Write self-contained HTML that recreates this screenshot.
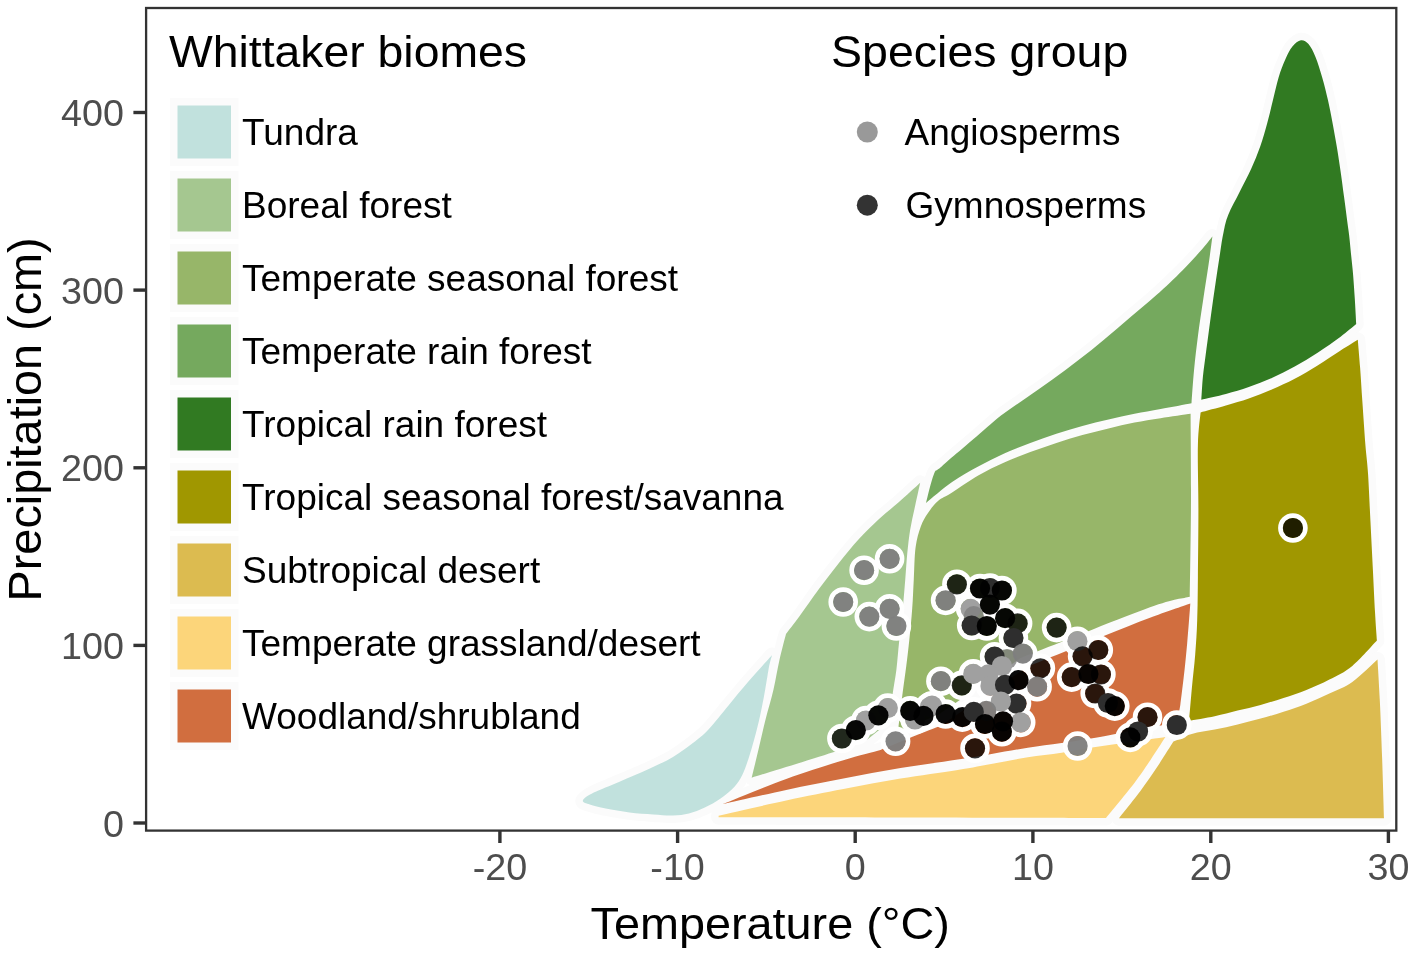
<!DOCTYPE html>
<html><head><meta charset="utf-8"><title>Whittaker biomes</title>
<style>
html,body{margin:0;padding:0;background:#fff;}
svg{display:block;}
text{font-family:"Liberation Sans",sans-serif;}
.tick{font-size:37.7px;fill:#4d4d4d;}
.lab{font-size:37px;fill:#000;}
.ttl{font-size:45px;fill:#000;}
</style></head>
<body>
<svg width="1417" height="959" viewBox="0 0 1417 959">
<rect x="0" y="0" width="1417" height="959" fill="#fff"/>
<!-- biome polygons -->
<g id="biomes">
<g fill="none" stroke="#fbfbfb" stroke-width="15" stroke-linejoin="round">
<path d="M772.1 654.9C771.6 656.7 770.4 660.0 769.2 665.8C768.1 671.6 766.7 681.2 765.2 689.5C763.7 697.8 762.0 707.0 760.2 715.3C758.4 723.6 756.3 731.8 754.3 739.1C752.3 746.4 750.4 753.0 748.4 758.9C746.4 764.8 744.7 770.2 742.4 774.8C740.1 779.4 738.1 782.8 734.5 786.7C730.9 790.7 725.6 795.0 720.6 798.5C715.6 802.0 710.1 805.0 704.8 807.5C699.5 810.0 694.2 812.1 688.9 813.4C683.6 814.7 679.0 815.2 673.0 815.4C667.0 815.6 660.5 814.9 653.2 814.4C646.0 813.9 637.4 813.4 629.5 812.4C621.6 811.4 612.3 809.8 605.7 808.5C599.1 807.2 593.6 805.8 589.8 804.5C586.0 803.2 582.2 802.5 582.9 800.5C583.6 798.5 587.7 795.7 593.8 792.6C599.9 789.5 610.2 785.7 619.5 781.7C628.8 777.7 640.4 772.9 649.3 768.8C658.2 764.7 665.7 761.2 673.0 756.9C680.3 752.6 686.9 747.6 692.9 743.0C698.9 738.4 702.8 735.5 708.7 729.2C714.6 722.9 721.9 713.3 728.5 705.4C735.1 697.5 741.1 690.0 748.4 681.6C755.7 673.2 768.1 659.4 772.1 654.9Z"/>
<path d="M920.2 482.8C916.6 486.1 905.4 496.5 898.4 502.6C891.4 508.7 885.1 513.4 878.5 519.5C871.9 525.6 865.3 532.0 858.7 539.3C852.1 546.5 845.5 554.8 838.9 563.0C832.3 571.2 825.7 579.9 819.1 588.8C812.5 597.7 804.8 609.1 799.3 616.6C793.8 624.1 788.2 631.1 786.0 634.0C784.9 638.3 781.6 650.5 779.5 659.8C777.4 669.0 775.8 679.6 773.5 689.5C771.2 699.4 768.1 709.4 765.6 719.3C763.1 729.2 760.9 739.3 758.6 749.0C756.3 758.7 752.9 772.9 751.7 777.7C765.9 773.2 817.5 757.5 836.9 751.0C856.3 744.5 862.8 741.0 868.0 739.0L889.0 722.0C889.6 717.6 891.2 704.2 892.4 695.5C893.6 686.8 895.2 679.0 896.4 669.7C897.5 660.5 898.1 651.2 899.3 640.0C900.4 628.8 902.3 612.9 903.3 602.7C904.3 592.5 904.6 587.2 905.3 578.9C906.0 570.6 906.5 561.4 907.3 553.1C908.1 544.9 908.9 537.3 910.2 529.4C911.5 521.5 913.5 513.4 915.2 505.6C916.9 497.8 919.4 486.6 920.2 482.8Z"/>
<path d="M898.0 731.0C898.7 725.1 900.9 706.4 902.3 695.5C903.7 684.6 905.1 675.0 906.3 665.8C907.5 656.5 908.3 649.5 909.3 640.0C910.3 630.5 911.5 618.8 912.2 608.6C913.0 598.4 913.2 589.1 913.8 578.9C914.4 568.7 914.4 556.0 915.6 547.2C916.8 538.5 918.7 532.1 920.8 526.4C922.9 520.7 925.1 517.2 928.0 513.0C930.9 508.8 934.0 504.4 938.0 501.0C942.0 497.6 945.4 496.8 952.1 492.5C958.8 488.2 969.5 480.5 978.2 475.5C986.9 470.5 995.5 466.4 1004.2 462.5C1012.9 458.6 1021.6 455.4 1030.3 452.1C1039.0 448.9 1047.7 445.8 1056.4 443.0C1065.1 440.2 1073.7 437.5 1082.4 435.1C1091.1 432.7 1099.8 430.7 1108.5 428.6C1117.2 426.5 1125.8 424.3 1134.5 422.6C1143.2 420.9 1151.2 419.7 1160.6 418.2C1169.9 416.7 1185.6 414.5 1190.6 413.8C1190.7 428.2 1191.1 469.5 1191.0 500.0C1190.9 530.5 1190.0 580.6 1189.8 596.7C1183.2 598.5 1175.2 598.2 1150.0 607.3C1124.8 616.4 1060.0 642.6 1038.3 651.1C1016.6 659.6 1023.0 657.3 1020.0 658.5L938.0 715.0L898.0 731.0Z"/>
<path d="M926.0 502.9C927.3 498.1 931.3 480.3 933.9 474.2C936.5 468.1 934.3 472.9 941.7 466.4C949.1 459.9 968.3 443.6 978.2 435.1C988.1 426.6 993.0 421.8 1001.0 415.6C1009.0 409.4 1017.6 404.0 1026.1 398.0C1034.6 392.0 1043.4 386.1 1052.1 379.8C1060.8 373.5 1069.5 367.0 1078.2 360.3C1086.9 353.6 1095.5 346.6 1104.2 339.4C1112.9 332.2 1121.6 324.7 1130.3 317.3C1139.0 309.9 1147.7 302.9 1156.4 295.1C1165.1 287.3 1175.0 277.8 1182.4 270.4C1189.8 263.0 1195.7 256.4 1200.7 250.8C1205.7 245.2 1210.5 238.9 1212.4 236.5C1211.8 241.3 1210.0 254.7 1208.5 265.1C1207.0 275.5 1205.0 287.3 1203.3 299.0C1201.5 310.7 1199.5 323.8 1198.0 335.5C1196.5 347.2 1195.2 358.1 1194.1 369.4C1193.0 380.7 1191.9 397.6 1191.5 403.3C1186.3 404.3 1170.1 407.4 1160.6 409.1C1151.1 410.9 1143.2 412.1 1134.5 413.8C1125.8 415.5 1117.2 417.5 1108.5 419.5C1099.8 421.5 1091.1 423.6 1082.4 426.0C1073.7 428.4 1065.1 431.0 1056.4 433.8C1047.7 436.6 1039.0 439.7 1030.3 443.0C1021.6 446.3 1012.9 449.5 1004.2 453.4C995.5 457.3 986.9 461.6 978.2 466.4C969.5 471.2 960.8 475.9 952.1 482.0C943.4 488.1 930.4 499.4 926.0 502.9Z"/>
<path d="M1201.3 399.8C1201.6 396.0 1202.1 385.2 1202.9 376.8C1203.8 368.4 1205.1 359.6 1206.4 349.3C1207.8 339.0 1209.5 326.0 1211.0 314.9C1212.5 303.8 1214.1 293.1 1215.6 282.8C1217.1 272.5 1218.8 261.4 1220.1 252.9C1221.4 244.4 1222.2 238.3 1223.6 232.0C1224.9 225.7 1225.5 221.7 1228.2 215.0C1230.9 208.3 1235.8 199.8 1239.6 192.1C1243.4 184.4 1247.6 176.8 1251.1 169.1C1254.5 161.4 1257.6 153.8 1260.3 146.2C1263.0 138.5 1265.1 130.8 1267.2 123.2C1269.3 115.6 1271.0 107.9 1272.9 100.3C1274.8 92.7 1276.5 84.3 1278.6 77.4C1280.7 70.5 1283.2 64.2 1285.5 59.0C1287.8 53.8 1289.8 49.5 1292.4 46.4C1295.0 43.3 1298.2 40.6 1300.9 40.2C1303.6 39.8 1306.1 41.4 1308.5 44.1C1310.9 46.9 1313.1 51.2 1315.4 56.7C1317.7 62.2 1320.1 70.1 1322.2 77.4C1324.3 84.7 1326.3 92.7 1328.0 100.3C1329.7 107.9 1331.1 115.2 1332.6 123.2C1334.1 131.2 1335.8 140.5 1337.1 148.5C1338.4 156.5 1339.4 163.4 1340.6 171.4C1341.8 179.4 1342.9 188.6 1344.0 196.6C1345.1 204.6 1346.2 213.2 1347.0 219.6C1347.8 226.0 1348.4 229.4 1349.1 235.0C1349.8 240.6 1350.2 246.1 1350.9 252.9C1351.6 259.7 1352.6 268.2 1353.2 275.9C1353.8 283.5 1354.3 290.8 1354.8 298.8C1355.3 306.8 1356.0 319.9 1356.2 324.1C1353.6 326.2 1347.0 331.9 1340.6 336.7C1334.2 341.5 1325.2 347.7 1317.6 352.7C1309.9 357.7 1302.3 362.3 1294.7 366.5C1287.1 370.7 1279.5 374.6 1271.8 378.0C1264.1 381.4 1256.4 384.4 1248.8 387.1C1241.2 389.8 1233.8 391.9 1225.9 394.0C1218.0 396.1 1205.4 398.8 1201.3 399.8Z"/>
<path d="M1200.6 412.4C1204.8 411.2 1217.9 407.8 1225.9 405.5C1233.9 403.2 1241.2 401.3 1248.8 398.6C1256.4 395.9 1264.1 392.7 1271.8 389.4C1279.5 386.1 1287.1 382.7 1294.7 378.7C1302.3 374.7 1309.9 370.1 1317.6 365.4C1325.2 360.7 1333.9 354.7 1340.6 350.4C1347.3 346.1 1354.9 341.5 1357.8 339.7C1358.2 344.4 1359.3 357.2 1360.1 367.6C1360.9 378.0 1361.5 389.2 1362.4 402.1C1363.3 415.0 1364.5 432.9 1365.4 445.0C1366.4 457.1 1367.3 461.8 1368.1 474.4C1368.9 486.9 1369.6 505.0 1370.4 520.3C1371.2 535.6 1371.9 550.9 1372.7 566.2C1373.5 581.5 1374.3 599.7 1375.0 612.1C1375.7 624.5 1376.6 635.9 1376.9 640.6C1372.8 644.8 1360.2 659.4 1352.3 665.9C1344.4 672.4 1337.1 675.6 1329.4 679.6C1321.8 683.6 1314.1 686.9 1306.4 690.0C1298.8 693.1 1291.1 695.5 1283.5 698.0C1275.9 700.5 1268.2 702.8 1260.6 704.9C1252.9 707.0 1245.2 708.7 1237.6 710.6C1229.9 712.5 1222.8 714.6 1214.7 716.3C1206.6 718.0 1193.3 720.1 1189.0 720.9C1189.5 715.5 1190.8 699.9 1191.8 688.8C1192.8 677.7 1194.3 665.9 1195.2 654.4C1196.1 642.9 1196.8 632.8 1197.2 620.0C1197.7 607.2 1197.7 596.1 1197.9 577.6C1198.1 559.1 1198.4 530.9 1198.4 508.8C1198.4 486.7 1197.5 461.1 1197.9 445.0C1198.3 428.9 1200.1 417.8 1200.6 412.4Z"/>
<path d="M1377.5 659.5C1373.3 663.2 1360.3 676.2 1352.3 681.9C1344.3 687.5 1337.1 689.8 1329.4 693.4C1321.8 697.0 1314.1 700.6 1306.4 703.7C1298.8 706.8 1291.1 709.3 1283.5 711.8C1275.9 714.3 1268.2 716.5 1260.6 718.6C1252.9 720.7 1245.2 722.6 1237.6 724.4C1229.9 726.2 1222.3 728.0 1214.7 729.6C1207.1 731.2 1198.7 732.0 1191.8 734.0C1184.9 736.0 1176.5 740.3 1173.4 741.6C1170.7 745.8 1162.7 758.8 1157.3 766.8C1151.9 774.8 1147.7 781.1 1141.3 789.7C1134.9 798.3 1122.7 813.5 1119.0 818.2L1384.0 818.2C1383.7 808.1 1382.8 777.2 1382.1 757.6C1381.4 738.0 1380.6 716.6 1379.8 700.3C1379.0 683.9 1377.9 666.3 1377.5 659.5Z"/>
<path d="M718.6 815.7C729.9 813.2 765.4 804.9 786.2 800.5C807.0 796.1 824.4 792.8 843.4 789.1C862.4 785.5 881.5 781.8 900.5 778.6C919.5 775.4 942.1 772.5 957.7 770.0C973.3 767.5 982.2 765.6 993.9 763.5C1005.6 761.4 1016.5 759.1 1027.8 757.3C1039.1 755.5 1050.3 754.4 1061.6 752.7C1072.9 751.0 1084.1 748.7 1095.5 747.0C1106.9 745.3 1118.3 744.0 1130.0 742.3C1141.7 740.6 1159.5 737.9 1165.4 737.0C1162.9 740.8 1155.7 752.2 1150.5 759.9C1145.3 767.5 1141.8 773.2 1134.4 782.9C1127.0 792.6 1110.7 812.1 1106.0 818.0C1071.7 817.9 964.6 817.6 900.0 817.5C835.4 817.4 748.8 817.3 718.6 817.3L718.6 815.7Z"/>
<path d="M722.4 804.3C733.0 800.1 766.0 786.4 786.2 779.0C806.4 771.6 827.7 765.0 843.4 760.2C859.1 755.4 874.3 751.7 880.5 750.0C886.0 747.7 903.9 740.3 913.8 736.3C923.7 732.3 935.6 727.6 940.0 725.9L1028.0 666.5C1032.0 664.9 1039.1 662.0 1051.9 656.8C1064.7 651.6 1088.7 641.9 1105.0 635.4C1121.3 628.9 1135.8 623.0 1150.0 617.7C1164.2 612.4 1183.6 605.9 1190.3 603.5C1189.8 610.5 1188.3 630.7 1187.2 642.9C1186.1 655.1 1184.9 667.0 1183.7 677.3C1182.5 687.6 1181.2 698.4 1180.3 704.9C1179.3 711.4 1178.4 714.4 1178.0 716.3C1175.7 717.6 1172.2 721.9 1164.2 724.4C1156.2 726.9 1140.7 728.9 1130.0 731.0C1119.3 733.1 1111.4 735.0 1100.0 737.0C1088.6 739.0 1073.6 741.3 1061.6 743.1C1049.6 744.9 1039.5 745.9 1027.8 747.7C1016.1 749.5 1003.3 751.9 991.6 753.9C979.9 755.9 972.9 757.1 957.7 759.5C942.5 761.9 919.5 764.9 900.5 768.1C881.5 771.3 862.4 775.0 843.4 778.6C824.4 782.2 806.4 785.7 786.2 790.0C766.0 794.3 733.0 801.9 722.4 804.3Z"/>
</g>
<path d="M772.1 654.9C771.6 656.7 770.4 660.0 769.2 665.8C768.1 671.6 766.7 681.2 765.2 689.5C763.7 697.8 762.0 707.0 760.2 715.3C758.4 723.6 756.3 731.8 754.3 739.1C752.3 746.4 750.4 753.0 748.4 758.9C746.4 764.8 744.7 770.2 742.4 774.8C740.1 779.4 738.1 782.8 734.5 786.7C730.9 790.7 725.6 795.0 720.6 798.5C715.6 802.0 710.1 805.0 704.8 807.5C699.5 810.0 694.2 812.1 688.9 813.4C683.6 814.7 679.0 815.2 673.0 815.4C667.0 815.6 660.5 814.9 653.2 814.4C646.0 813.9 637.4 813.4 629.5 812.4C621.6 811.4 612.3 809.8 605.7 808.5C599.1 807.2 593.6 805.8 589.8 804.5C586.0 803.2 582.2 802.5 582.9 800.5C583.6 798.5 587.7 795.7 593.8 792.6C599.9 789.5 610.2 785.7 619.5 781.7C628.8 777.7 640.4 772.9 649.3 768.8C658.2 764.7 665.7 761.2 673.0 756.9C680.3 752.6 686.9 747.6 692.9 743.0C698.9 738.4 702.8 735.5 708.7 729.2C714.6 722.9 721.9 713.3 728.5 705.4C735.1 697.5 741.1 690.0 748.4 681.6C755.7 673.2 768.1 659.4 772.1 654.9Z" fill="#C1E1DD"/>
<path d="M920.2 482.8C916.6 486.1 905.4 496.5 898.4 502.6C891.4 508.7 885.1 513.4 878.5 519.5C871.9 525.6 865.3 532.0 858.7 539.3C852.1 546.5 845.5 554.8 838.9 563.0C832.3 571.2 825.7 579.9 819.1 588.8C812.5 597.7 804.8 609.1 799.3 616.6C793.8 624.1 788.2 631.1 786.0 634.0C784.9 638.3 781.6 650.5 779.5 659.8C777.4 669.0 775.8 679.6 773.5 689.5C771.2 699.4 768.1 709.4 765.6 719.3C763.1 729.2 760.9 739.3 758.6 749.0C756.3 758.7 752.9 772.9 751.7 777.7C765.9 773.2 817.5 757.5 836.9 751.0C856.3 744.5 862.8 741.0 868.0 739.0L889.0 722.0C889.6 717.6 891.2 704.2 892.4 695.5C893.6 686.8 895.2 679.0 896.4 669.7C897.5 660.5 898.1 651.2 899.3 640.0C900.4 628.8 902.3 612.9 903.3 602.7C904.3 592.5 904.6 587.2 905.3 578.9C906.0 570.6 906.5 561.4 907.3 553.1C908.1 544.9 908.9 537.3 910.2 529.4C911.5 521.5 913.5 513.4 915.2 505.6C916.9 497.8 919.4 486.6 920.2 482.8Z" fill="#A5C790"/>
<path d="M898.0 731.0C898.7 725.1 900.9 706.4 902.3 695.5C903.7 684.6 905.1 675.0 906.3 665.8C907.5 656.5 908.3 649.5 909.3 640.0C910.3 630.5 911.5 618.8 912.2 608.6C913.0 598.4 913.2 589.1 913.8 578.9C914.4 568.7 914.4 556.0 915.6 547.2C916.8 538.5 918.7 532.1 920.8 526.4C922.9 520.7 925.1 517.2 928.0 513.0C930.9 508.8 934.0 504.4 938.0 501.0C942.0 497.6 945.4 496.8 952.1 492.5C958.8 488.2 969.5 480.5 978.2 475.5C986.9 470.5 995.5 466.4 1004.2 462.5C1012.9 458.6 1021.6 455.4 1030.3 452.1C1039.0 448.9 1047.7 445.8 1056.4 443.0C1065.1 440.2 1073.7 437.5 1082.4 435.1C1091.1 432.7 1099.8 430.7 1108.5 428.6C1117.2 426.5 1125.8 424.3 1134.5 422.6C1143.2 420.9 1151.2 419.7 1160.6 418.2C1169.9 416.7 1185.6 414.5 1190.6 413.8C1190.7 428.2 1191.1 469.5 1191.0 500.0C1190.9 530.5 1190.0 580.6 1189.8 596.7C1183.2 598.5 1175.2 598.2 1150.0 607.3C1124.8 616.4 1060.0 642.6 1038.3 651.1C1016.6 659.6 1023.0 657.3 1020.0 658.5L938.0 715.0L898.0 731.0Z" fill="#97B669"/>
<path d="M926.0 502.9C927.3 498.1 931.3 480.3 933.9 474.2C936.5 468.1 934.3 472.9 941.7 466.4C949.1 459.9 968.3 443.6 978.2 435.1C988.1 426.6 993.0 421.8 1001.0 415.6C1009.0 409.4 1017.6 404.0 1026.1 398.0C1034.6 392.0 1043.4 386.1 1052.1 379.8C1060.8 373.5 1069.5 367.0 1078.2 360.3C1086.9 353.6 1095.5 346.6 1104.2 339.4C1112.9 332.2 1121.6 324.7 1130.3 317.3C1139.0 309.9 1147.7 302.9 1156.4 295.1C1165.1 287.3 1175.0 277.8 1182.4 270.4C1189.8 263.0 1195.7 256.4 1200.7 250.8C1205.7 245.2 1210.5 238.9 1212.4 236.5C1211.8 241.3 1210.0 254.7 1208.5 265.1C1207.0 275.5 1205.0 287.3 1203.3 299.0C1201.5 310.7 1199.5 323.8 1198.0 335.5C1196.5 347.2 1195.2 358.1 1194.1 369.4C1193.0 380.7 1191.9 397.6 1191.5 403.3C1186.3 404.3 1170.1 407.4 1160.6 409.1C1151.1 410.9 1143.2 412.1 1134.5 413.8C1125.8 415.5 1117.2 417.5 1108.5 419.5C1099.8 421.5 1091.1 423.6 1082.4 426.0C1073.7 428.4 1065.1 431.0 1056.4 433.8C1047.7 436.6 1039.0 439.7 1030.3 443.0C1021.6 446.3 1012.9 449.5 1004.2 453.4C995.5 457.3 986.9 461.6 978.2 466.4C969.5 471.2 960.8 475.9 952.1 482.0C943.4 488.1 930.4 499.4 926.0 502.9Z" fill="#75A95E"/>
<path d="M1201.3 399.8C1201.6 396.0 1202.1 385.2 1202.9 376.8C1203.8 368.4 1205.1 359.6 1206.4 349.3C1207.8 339.0 1209.5 326.0 1211.0 314.9C1212.5 303.8 1214.1 293.1 1215.6 282.8C1217.1 272.5 1218.8 261.4 1220.1 252.9C1221.4 244.4 1222.2 238.3 1223.6 232.0C1224.9 225.7 1225.5 221.7 1228.2 215.0C1230.9 208.3 1235.8 199.8 1239.6 192.1C1243.4 184.4 1247.6 176.8 1251.1 169.1C1254.5 161.4 1257.6 153.8 1260.3 146.2C1263.0 138.5 1265.1 130.8 1267.2 123.2C1269.3 115.6 1271.0 107.9 1272.9 100.3C1274.8 92.7 1276.5 84.3 1278.6 77.4C1280.7 70.5 1283.2 64.2 1285.5 59.0C1287.8 53.8 1289.8 49.5 1292.4 46.4C1295.0 43.3 1298.2 40.6 1300.9 40.2C1303.6 39.8 1306.1 41.4 1308.5 44.1C1310.9 46.9 1313.1 51.2 1315.4 56.7C1317.7 62.2 1320.1 70.1 1322.2 77.4C1324.3 84.7 1326.3 92.7 1328.0 100.3C1329.7 107.9 1331.1 115.2 1332.6 123.2C1334.1 131.2 1335.8 140.5 1337.1 148.5C1338.4 156.5 1339.4 163.4 1340.6 171.4C1341.8 179.4 1342.9 188.6 1344.0 196.6C1345.1 204.6 1346.2 213.2 1347.0 219.6C1347.8 226.0 1348.4 229.4 1349.1 235.0C1349.8 240.6 1350.2 246.1 1350.9 252.9C1351.6 259.7 1352.6 268.2 1353.2 275.9C1353.8 283.5 1354.3 290.8 1354.8 298.8C1355.3 306.8 1356.0 319.9 1356.2 324.1C1353.6 326.2 1347.0 331.9 1340.6 336.7C1334.2 341.5 1325.2 347.7 1317.6 352.7C1309.9 357.7 1302.3 362.3 1294.7 366.5C1287.1 370.7 1279.5 374.6 1271.8 378.0C1264.1 381.4 1256.4 384.4 1248.8 387.1C1241.2 389.8 1233.8 391.9 1225.9 394.0C1218.0 396.1 1205.4 398.8 1201.3 399.8Z" fill="#317A22"/>
<path d="M1200.6 412.4C1204.8 411.2 1217.9 407.8 1225.9 405.5C1233.9 403.2 1241.2 401.3 1248.8 398.6C1256.4 395.9 1264.1 392.7 1271.8 389.4C1279.5 386.1 1287.1 382.7 1294.7 378.7C1302.3 374.7 1309.9 370.1 1317.6 365.4C1325.2 360.7 1333.9 354.7 1340.6 350.4C1347.3 346.1 1354.9 341.5 1357.8 339.7C1358.2 344.4 1359.3 357.2 1360.1 367.6C1360.9 378.0 1361.5 389.2 1362.4 402.1C1363.3 415.0 1364.5 432.9 1365.4 445.0C1366.4 457.1 1367.3 461.8 1368.1 474.4C1368.9 486.9 1369.6 505.0 1370.4 520.3C1371.2 535.6 1371.9 550.9 1372.7 566.2C1373.5 581.5 1374.3 599.7 1375.0 612.1C1375.7 624.5 1376.6 635.9 1376.9 640.6C1372.8 644.8 1360.2 659.4 1352.3 665.9C1344.4 672.4 1337.1 675.6 1329.4 679.6C1321.8 683.6 1314.1 686.9 1306.4 690.0C1298.8 693.1 1291.1 695.5 1283.5 698.0C1275.9 700.5 1268.2 702.8 1260.6 704.9C1252.9 707.0 1245.2 708.7 1237.6 710.6C1229.9 712.5 1222.8 714.6 1214.7 716.3C1206.6 718.0 1193.3 720.1 1189.0 720.9C1189.5 715.5 1190.8 699.9 1191.8 688.8C1192.8 677.7 1194.3 665.9 1195.2 654.4C1196.1 642.9 1196.8 632.8 1197.2 620.0C1197.7 607.2 1197.7 596.1 1197.9 577.6C1198.1 559.1 1198.4 530.9 1198.4 508.8C1198.4 486.7 1197.5 461.1 1197.9 445.0C1198.3 428.9 1200.1 417.8 1200.6 412.4Z" fill="#A09700"/>
<path d="M1377.5 659.5C1373.3 663.2 1360.3 676.2 1352.3 681.9C1344.3 687.5 1337.1 689.8 1329.4 693.4C1321.8 697.0 1314.1 700.6 1306.4 703.7C1298.8 706.8 1291.1 709.3 1283.5 711.8C1275.9 714.3 1268.2 716.5 1260.6 718.6C1252.9 720.7 1245.2 722.6 1237.6 724.4C1229.9 726.2 1222.3 728.0 1214.7 729.6C1207.1 731.2 1198.7 732.0 1191.8 734.0C1184.9 736.0 1176.5 740.3 1173.4 741.6C1170.7 745.8 1162.7 758.8 1157.3 766.8C1151.9 774.8 1147.7 781.1 1141.3 789.7C1134.9 798.3 1122.7 813.5 1119.0 818.2L1384.0 818.2C1383.7 808.1 1382.8 777.2 1382.1 757.6C1381.4 738.0 1380.6 716.6 1379.8 700.3C1379.0 683.9 1377.9 666.3 1377.5 659.5Z" fill="#DCBB50"/>
<path d="M718.6 815.7C729.9 813.2 765.4 804.9 786.2 800.5C807.0 796.1 824.4 792.8 843.4 789.1C862.4 785.5 881.5 781.8 900.5 778.6C919.5 775.4 942.1 772.5 957.7 770.0C973.3 767.5 982.2 765.6 993.9 763.5C1005.6 761.4 1016.5 759.1 1027.8 757.3C1039.1 755.5 1050.3 754.4 1061.6 752.7C1072.9 751.0 1084.1 748.7 1095.5 747.0C1106.9 745.3 1118.3 744.0 1130.0 742.3C1141.7 740.6 1159.5 737.9 1165.4 737.0C1162.9 740.8 1155.7 752.2 1150.5 759.9C1145.3 767.5 1141.8 773.2 1134.4 782.9C1127.0 792.6 1110.7 812.1 1106.0 818.0C1071.7 817.9 964.6 817.6 900.0 817.5C835.4 817.4 748.8 817.3 718.6 817.3L718.6 815.7Z" fill="#FCD57A"/>
<path d="M722.4 804.3C733.0 800.1 766.0 786.4 786.2 779.0C806.4 771.6 827.7 765.0 843.4 760.2C859.1 755.4 874.3 751.7 880.5 750.0C886.0 747.7 903.9 740.3 913.8 736.3C923.7 732.3 935.6 727.6 940.0 725.9L1028.0 666.5C1032.0 664.9 1039.1 662.0 1051.9 656.8C1064.7 651.6 1088.7 641.9 1105.0 635.4C1121.3 628.9 1135.8 623.0 1150.0 617.7C1164.2 612.4 1183.6 605.9 1190.3 603.5C1189.8 610.5 1188.3 630.7 1187.2 642.9C1186.1 655.1 1184.9 667.0 1183.7 677.3C1182.5 687.6 1181.2 698.4 1180.3 704.9C1179.3 711.4 1178.4 714.4 1178.0 716.3C1175.7 717.6 1172.2 721.9 1164.2 724.4C1156.2 726.9 1140.7 728.9 1130.0 731.0C1119.3 733.1 1111.4 735.0 1100.0 737.0C1088.6 739.0 1073.6 741.3 1061.6 743.1C1049.6 744.9 1039.5 745.9 1027.8 747.7C1016.1 749.5 1003.3 751.9 991.6 753.9C979.9 755.9 972.9 757.1 957.7 759.5C942.5 761.9 919.5 764.9 900.5 768.1C881.5 771.3 862.4 775.0 843.4 778.6C824.4 782.2 806.4 785.7 786.2 790.0C766.0 794.3 733.0 801.9 722.4 804.3Z" fill="#D16E3F"/>
</g>
<!-- points -->
<g id="points">
<mask id="pm" maskUnits="userSpaceOnUse" x="800" y="500" width="560" height="300"><rect x="800" y="500" width="560" height="300" fill="#fff"/><g fill="#000">
<circle cx="889.6" cy="558.8" r="9.5"/>
<circle cx="864.1" cy="570.2" r="9.5"/>
<circle cx="843.2" cy="602.0" r="9.5"/>
<circle cx="869.3" cy="616.6" r="9.5"/>
<circle cx="889.6" cy="608.8" r="9.5"/>
<circle cx="896.4" cy="626.0" r="9.5"/>
<circle cx="945.6" cy="600.4" r="9.5"/>
<circle cx="970.7" cy="608.8" r="9.5"/>
<circle cx="973.8" cy="616.1" r="9.5"/>
<circle cx="956.9" cy="584.3" r="9.5"/>
<circle cx="990.0" cy="588.0" r="9.5"/>
<circle cx="980.0" cy="588.5" r="9.5"/>
<circle cx="1001.9" cy="590.5" r="9.5"/>
<circle cx="989.9" cy="604.6" r="9.5"/>
<circle cx="971.7" cy="625.5" r="9.5"/>
<circle cx="986.8" cy="626.0" r="9.5"/>
<circle cx="1017.6" cy="623.4" r="9.5"/>
<circle cx="1005.1" cy="618.2" r="9.5"/>
<circle cx="1013.4" cy="638.0" r="9.5"/>
<circle cx="1007.0" cy="659.0" r="9.5"/>
<circle cx="1022.8" cy="653.6" r="9.5"/>
<circle cx="994.6" cy="656.7" r="9.5"/>
<circle cx="1056.6" cy="627.6" r="9.5"/>
<circle cx="1077.4" cy="641.2" r="9.5"/>
<circle cx="1098.3" cy="650.0" r="9.5"/>
<circle cx="1082.6" cy="656.3" r="9.5"/>
<circle cx="1040.4" cy="668.3" r="9.5"/>
<circle cx="1037.1" cy="686.7" r="9.5"/>
<circle cx="1071.7" cy="677.1" r="9.5"/>
<circle cx="1100.9" cy="674.5" r="9.5"/>
<circle cx="1088.4" cy="674.0" r="9.5"/>
<circle cx="1095.2" cy="693.5" r="9.5"/>
<circle cx="1108.0" cy="703.0" r="9.5"/>
<circle cx="1114.8" cy="706.1" r="9.5"/>
<circle cx="1147.5" cy="717.2" r="9.5"/>
<circle cx="1176.8" cy="725.0" r="9.5"/>
<circle cx="1138.0" cy="731.5" r="9.5"/>
<circle cx="1130.3" cy="737.4" r="9.5"/>
<circle cx="1077.6" cy="746.0" r="9.5"/>
<circle cx="975.0" cy="748.3" r="9.5"/>
<circle cx="940.9" cy="681.2" r="9.5"/>
<circle cx="961.8" cy="685.4" r="9.5"/>
<circle cx="973.3" cy="673.9" r="9.5"/>
<circle cx="1001.9" cy="666.0" r="9.5"/>
<circle cx="988.4" cy="674.4" r="9.5"/>
<circle cx="990.5" cy="685.9" r="9.5"/>
<circle cx="1005.0" cy="684.8" r="9.5"/>
<circle cx="1018.6" cy="680.1" r="9.5"/>
<circle cx="1016.5" cy="703.6" r="9.5"/>
<circle cx="1000.9" cy="701.5" r="9.5"/>
<circle cx="866.0" cy="720.5" r="9.5"/>
<circle cx="887.8" cy="708.1" r="9.5"/>
<circle cx="915.0" cy="719.5" r="9.5"/>
<circle cx="929.9" cy="707.0" r="9.5"/>
<circle cx="932.0" cy="705.7" r="9.5"/>
<circle cx="986.3" cy="710.9" r="9.5"/>
<circle cx="841.9" cy="738.5" r="9.5"/>
<circle cx="855.8" cy="730.2" r="9.5"/>
<circle cx="878.4" cy="715.3" r="9.5"/>
<circle cx="910.2" cy="710.8" r="9.5"/>
<circle cx="923.5" cy="715.9" r="9.5"/>
<circle cx="945.6" cy="714.0" r="9.5"/>
<circle cx="962.3" cy="717.1" r="9.5"/>
<circle cx="973.8" cy="711.9" r="9.5"/>
<circle cx="895.6" cy="741.3" r="9.5"/>
<circle cx="1020.7" cy="722.4" r="9.5"/>
<circle cx="985.0" cy="724.0" r="9.5"/>
<circle cx="1003.0" cy="721.3" r="9.5"/>
<circle cx="1001.9" cy="731.7" r="9.5"/>
<circle cx="1292.9" cy="528.0" r="9.5"/>
</g></mask>
<g fill="none" stroke="#fff" stroke-width="4.8" mask="url(#pm)">
<circle cx="889.6" cy="558.8" r="12.4"/>
<circle cx="864.1" cy="570.2" r="12.4"/>
<circle cx="843.2" cy="602.0" r="12.4"/>
<circle cx="869.3" cy="616.6" r="12.4"/>
<circle cx="889.6" cy="608.8" r="12.4"/>
<circle cx="896.4" cy="626.0" r="12.4"/>
<circle cx="945.6" cy="600.4" r="12.4"/>
<circle cx="970.7" cy="608.8" r="12.4"/>
<circle cx="973.8" cy="616.1" r="12.4"/>
<circle cx="956.9" cy="584.3" r="12.4"/>
<circle cx="990.0" cy="588.0" r="12.4"/>
<circle cx="980.0" cy="588.5" r="12.4"/>
<circle cx="1001.9" cy="590.5" r="12.4"/>
<circle cx="989.9" cy="604.6" r="12.4"/>
<circle cx="971.7" cy="625.5" r="12.4"/>
<circle cx="986.8" cy="626.0" r="12.4"/>
<circle cx="1017.6" cy="623.4" r="12.4"/>
<circle cx="1005.1" cy="618.2" r="12.4"/>
<circle cx="1013.4" cy="638.0" r="12.4"/>
<circle cx="1007.0" cy="659.0" r="12.4"/>
<circle cx="1022.8" cy="653.6" r="12.4"/>
<circle cx="994.6" cy="656.7" r="12.4"/>
<circle cx="1056.6" cy="627.6" r="12.4"/>
<circle cx="1077.4" cy="641.2" r="12.4"/>
<circle cx="1098.3" cy="650.0" r="12.4"/>
<circle cx="1082.6" cy="656.3" r="12.4"/>
<circle cx="1040.4" cy="668.3" r="12.4"/>
<circle cx="1037.1" cy="686.7" r="12.4"/>
<circle cx="1071.7" cy="677.1" r="12.4"/>
<circle cx="1100.9" cy="674.5" r="12.4"/>
<circle cx="1088.4" cy="674.0" r="12.4"/>
<circle cx="1095.2" cy="693.5" r="12.4"/>
<circle cx="1108.0" cy="703.0" r="12.4"/>
<circle cx="1114.8" cy="706.1" r="12.4"/>
<circle cx="1147.5" cy="717.2" r="12.4"/>
<circle cx="1176.8" cy="725.0" r="12.4"/>
<circle cx="1138.0" cy="731.5" r="12.4"/>
<circle cx="1130.3" cy="737.4" r="12.4"/>
<circle cx="1077.6" cy="746.0" r="12.4"/>
<circle cx="975.0" cy="748.3" r="12.4"/>
<circle cx="940.9" cy="681.2" r="12.4"/>
<circle cx="961.8" cy="685.4" r="12.4"/>
<circle cx="973.3" cy="673.9" r="12.4"/>
<circle cx="1001.9" cy="666.0" r="12.4"/>
<circle cx="988.4" cy="674.4" r="12.4"/>
<circle cx="990.5" cy="685.9" r="12.4"/>
<circle cx="1005.0" cy="684.8" r="12.4"/>
<circle cx="1018.6" cy="680.1" r="12.4"/>
<circle cx="1016.5" cy="703.6" r="12.4"/>
<circle cx="1000.9" cy="701.5" r="12.4"/>
<circle cx="866.0" cy="720.5" r="12.4"/>
<circle cx="887.8" cy="708.1" r="12.4"/>
<circle cx="915.0" cy="719.5" r="12.4"/>
<circle cx="929.9" cy="707.0" r="12.4"/>
<circle cx="932.0" cy="705.7" r="12.4"/>
<circle cx="986.3" cy="710.9" r="12.4"/>
<circle cx="841.9" cy="738.5" r="12.4"/>
<circle cx="855.8" cy="730.2" r="12.4"/>
<circle cx="878.4" cy="715.3" r="12.4"/>
<circle cx="910.2" cy="710.8" r="12.4"/>
<circle cx="923.5" cy="715.9" r="12.4"/>
<circle cx="945.6" cy="714.0" r="12.4"/>
<circle cx="962.3" cy="717.1" r="12.4"/>
<circle cx="973.8" cy="711.9" r="12.4"/>
<circle cx="895.6" cy="741.3" r="12.4"/>
<circle cx="1020.7" cy="722.4" r="12.4"/>
<circle cx="985.0" cy="724.0" r="12.4"/>
<circle cx="1003.0" cy="721.3" r="12.4"/>
<circle cx="1001.9" cy="731.7" r="12.4"/>
<circle cx="1292.9" cy="528.0" r="12.4"/>
</g>
<g>
<circle cx="889.6" cy="558.8" r="10.1" fill="#7f7f7f" fill-opacity="0.96"/>
<circle cx="864.1" cy="570.2" r="10.1" fill="#7f7f7f" fill-opacity="0.96"/>
<circle cx="843.2" cy="602.0" r="10.1" fill="#7f7f7f" fill-opacity="0.96"/>
<circle cx="869.3" cy="616.6" r="10.1" fill="#7f7f7f" fill-opacity="0.96"/>
<circle cx="889.6" cy="608.8" r="10.1" fill="#7f7f7f" fill-opacity="0.96"/>
<circle cx="896.4" cy="626.0" r="10.1" fill="#7f7f7f" fill-opacity="0.96"/>
<circle cx="945.6" cy="600.4" r="10.1" fill="#7f7f7f" fill-opacity="0.96"/>
<circle cx="970.7" cy="608.8" r="10.1" fill="#a0a0a0" fill-opacity="1"/>
<circle cx="973.8" cy="616.1" r="10.1" fill="#7f7f7f" fill-opacity="0.8"/>
<circle cx="956.9" cy="584.3" r="10.1" fill="#000000" fill-opacity="0.8"/>
<circle cx="990.0" cy="588.0" r="10.1" fill="#2e2e2e" fill-opacity="1"/>
<circle cx="980.0" cy="588.5" r="10.1" fill="#000000" fill-opacity="0.96"/>
<circle cx="1001.9" cy="590.5" r="10.1" fill="#000000" fill-opacity="0.96"/>
<circle cx="989.9" cy="604.6" r="10.1" fill="#000000" fill-opacity="0.96"/>
<circle cx="971.7" cy="625.5" r="10.1" fill="#2e2e2e" fill-opacity="1"/>
<circle cx="986.8" cy="626.0" r="10.1" fill="#000000" fill-opacity="0.96"/>
<circle cx="1017.6" cy="623.4" r="10.1" fill="#000000" fill-opacity="0.8"/>
<circle cx="1005.1" cy="618.2" r="10.1" fill="#000000" fill-opacity="0.96"/>
<circle cx="1013.4" cy="638.0" r="10.1" fill="#2e2e2e" fill-opacity="1"/>
<circle cx="1007.0" cy="659.0" r="10.1" fill="#7f7f7f" fill-opacity="0.8"/>
<circle cx="1022.8" cy="653.6" r="10.1" fill="#7f7f7f" fill-opacity="0.96"/>
<circle cx="994.6" cy="656.7" r="10.1" fill="#2e2e2e" fill-opacity="1"/>
<circle cx="1056.6" cy="627.6" r="10.1" fill="#000000" fill-opacity="0.8"/>
<circle cx="1077.4" cy="641.2" r="10.1" fill="#a0a0a0" fill-opacity="1"/>
<circle cx="1098.3" cy="650.0" r="10.1" fill="#000000" fill-opacity="0.8"/>
<circle cx="1082.6" cy="656.3" r="10.1" fill="#000000" fill-opacity="0.8"/>
<circle cx="1040.4" cy="668.3" r="10.1" fill="#000000" fill-opacity="0.8"/>
<circle cx="1037.1" cy="686.7" r="10.1" fill="#7f7f7f" fill-opacity="0.96"/>
<circle cx="1071.7" cy="677.1" r="10.1" fill="#000000" fill-opacity="0.8"/>
<circle cx="1100.9" cy="674.5" r="10.1" fill="#000000" fill-opacity="0.8"/>
<circle cx="1088.4" cy="674.0" r="10.1" fill="#000000" fill-opacity="0.96"/>
<circle cx="1095.2" cy="693.5" r="10.1" fill="#000000" fill-opacity="0.8"/>
<circle cx="1108.0" cy="703.0" r="10.1" fill="#2e2e2e" fill-opacity="1"/>
<circle cx="1114.8" cy="706.1" r="10.1" fill="#000000" fill-opacity="0.96"/>
<circle cx="1147.5" cy="717.2" r="10.1" fill="#000000" fill-opacity="0.8"/>
<circle cx="1176.8" cy="725.0" r="10.1" fill="#2e2e2e" fill-opacity="1"/>
<circle cx="1138.0" cy="731.5" r="10.1" fill="#2e2e2e" fill-opacity="1"/>
<circle cx="1130.3" cy="737.4" r="10.1" fill="#000000" fill-opacity="0.96"/>
<circle cx="1077.6" cy="746.0" r="10.1" fill="#7f7f7f" fill-opacity="0.96"/>
<circle cx="975.0" cy="748.3" r="10.1" fill="#000000" fill-opacity="0.8"/>
<circle cx="940.9" cy="681.2" r="10.1" fill="#7f7f7f" fill-opacity="0.96"/>
<circle cx="961.8" cy="685.4" r="10.1" fill="#000000" fill-opacity="0.8"/>
<circle cx="973.3" cy="673.9" r="10.1" fill="#a0a0a0" fill-opacity="1"/>
<circle cx="1001.9" cy="666.0" r="10.1" fill="#a0a0a0" fill-opacity="1"/>
<circle cx="988.4" cy="674.4" r="10.1" fill="#a0a0a0" fill-opacity="1"/>
<circle cx="990.5" cy="685.9" r="10.1" fill="#a0a0a0" fill-opacity="1"/>
<circle cx="1005.0" cy="684.8" r="10.1" fill="#2e2e2e" fill-opacity="1"/>
<circle cx="1018.6" cy="680.1" r="10.1" fill="#000000" fill-opacity="0.96"/>
<circle cx="1016.5" cy="703.6" r="10.1" fill="#2e2e2e" fill-opacity="1"/>
<circle cx="1000.9" cy="701.5" r="10.1" fill="#a0a0a0" fill-opacity="1"/>
<circle cx="866.0" cy="720.5" r="10.1" fill="#a0a0a0" fill-opacity="1"/>
<circle cx="887.8" cy="708.1" r="10.1" fill="#a0a0a0" fill-opacity="1"/>
<circle cx="915.0" cy="719.5" r="10.1" fill="#a0a0a0" fill-opacity="1"/>
<circle cx="929.9" cy="707.0" r="10.1" fill="#a0a0a0" fill-opacity="1"/>
<circle cx="932.0" cy="705.7" r="10.1" fill="#a0a0a0" fill-opacity="1"/>
<circle cx="986.3" cy="710.9" r="10.1" fill="#7f7f7f" fill-opacity="0.96"/>
<circle cx="841.9" cy="738.5" r="10.1" fill="#000000" fill-opacity="0.8"/>
<circle cx="855.8" cy="730.2" r="10.1" fill="#000000" fill-opacity="0.96"/>
<circle cx="878.4" cy="715.3" r="10.1" fill="#000000" fill-opacity="0.96"/>
<circle cx="910.2" cy="710.8" r="10.1" fill="#000000" fill-opacity="0.96"/>
<circle cx="923.5" cy="715.9" r="10.1" fill="#000000" fill-opacity="0.96"/>
<circle cx="945.6" cy="714.0" r="10.1" fill="#000000" fill-opacity="0.96"/>
<circle cx="962.3" cy="717.1" r="10.1" fill="#000000" fill-opacity="0.96"/>
<circle cx="973.8" cy="711.9" r="10.1" fill="#2e2e2e" fill-opacity="1"/>
<circle cx="895.6" cy="741.3" r="10.1" fill="#7f7f7f" fill-opacity="0.96"/>
<circle cx="1020.7" cy="722.4" r="10.1" fill="#a0a0a0" fill-opacity="1"/>
<circle cx="985.0" cy="724.0" r="10.1" fill="#000000" fill-opacity="0.96"/>
<circle cx="1003.0" cy="721.3" r="10.1" fill="#000000" fill-opacity="0.96"/>
<circle cx="1001.9" cy="731.7" r="10.1" fill="#000000" fill-opacity="0.96"/>
<circle cx="1292.9" cy="528.0" r="10.1" fill="#000000" fill-opacity="0.8"/>
</g>
</g>
<!-- panel border -->
<rect x="146.1" y="8" width="1250.2" height="822.6" fill="none" stroke="#333" stroke-width="2.3"/>
<!-- ticks -->
<g stroke="#333" stroke-width="3.4">
<line x1="133.4" y1="112.5" x2="146" y2="112.5"/>
<line x1="133.4" y1="290.1" x2="146" y2="290.1"/>
<line x1="133.4" y1="467.8" x2="146" y2="467.8"/>
<line x1="133.4" y1="645.4" x2="146" y2="645.4"/>
<line x1="133.4" y1="823" x2="146" y2="823"/>
<line x1="499.9" y1="830.5" x2="499.9" y2="843"/>
<line x1="677.6" y1="830.5" x2="677.6" y2="843"/>
<line x1="855.2" y1="830.5" x2="855.2" y2="843"/>
<line x1="1032.9" y1="830.5" x2="1032.9" y2="843"/>
<line x1="1210.8" y1="830.5" x2="1210.8" y2="843"/>
<line x1="1388.4" y1="830.5" x2="1388.4" y2="843"/>
</g>
<g class="tick" text-anchor="end">
<text x="124" y="126">400</text>
<text x="124" y="303.6">300</text>
<text x="124" y="481.3">200</text>
<text x="124" y="658.9">100</text>
<text x="124" y="836.5">0</text>
</g>
<g class="tick" text-anchor="middle">
<text x="499.9" y="880">-20</text>
<text x="677.6" y="880">-10</text>
<text x="855.2" y="880">0</text>
<text x="1032.9" y="880">10</text>
<text x="1210.8" y="880">20</text>
<text x="1388.4" y="880">30</text>
</g>
<text class="ttl" x="770.2" y="938.5" text-anchor="middle" textLength="359.3" lengthAdjust="spacingAndGlyphs">Temperature (°C)</text>
<text class="ttl" style="font-size:46.8px" transform="translate(41,419.4) rotate(-90)" text-anchor="middle">Precipitation (cm)</text>
<!-- legend 1 -->
<text class="ttl" x="169" y="66.5" textLength="358" lengthAdjust="spacingAndGlyphs">Whittaker biomes</text>
<g id="keys" stroke="#fbfbfb" stroke-width="15" paint-order="stroke">
<rect x="177.5" y="105.5" width="53.5" height="53" fill="#C1E1DD"/>
<rect x="177.5" y="178.5" width="53.5" height="53" fill="#A5C790"/>
<rect x="177.5" y="251.5" width="53.5" height="53" fill="#97B669"/>
<rect x="177.5" y="324.5" width="53.5" height="53" fill="#75A95E"/>
<rect x="177.5" y="397.5" width="53.5" height="53" fill="#317A22"/>
<rect x="177.5" y="470.5" width="53.5" height="53" fill="#A09700"/>
<rect x="177.5" y="543.5" width="53.5" height="53" fill="#DCBB50"/>
<rect x="177.5" y="616.5" width="53.5" height="53" fill="#FCD57A"/>
<rect x="177.5" y="689.5" width="53.5" height="53" fill="#D16E3F"/>
</g>
<g class="lab">
<text x="242" y="145">Tundra</text>
<text x="242" y="218">Boreal forest</text>
<text x="242" y="291">Temperate seasonal forest</text>
<text x="242" y="364">Temperate rain forest</text>
<text x="242" y="437">Tropical rain forest</text>
<text x="242" y="510">Tropical seasonal forest/savanna</text>
<text x="242" y="583">Subtropical desert</text>
<text x="242" y="656">Temperate grassland/desert</text>
<text x="242" y="729">Woodland/shrubland</text>
</g>
<!-- legend 2 -->
<text class="ttl" x="831.1" y="66.5" textLength="297.2" lengthAdjust="spacingAndGlyphs">Species group</text>
<circle cx="867.3" cy="132" r="10.5" fill="#7f7f7f" fill-opacity="0.8"/>
<circle cx="867.3" cy="205.2" r="10.5" fill="#000" fill-opacity="0.8"/>
<g class="lab">
<text x="904.5" y="145">Angiosperms</text>
<text x="905.6" y="217.5">Gymnosperms</text>
</g>
</svg>
</body></html>
